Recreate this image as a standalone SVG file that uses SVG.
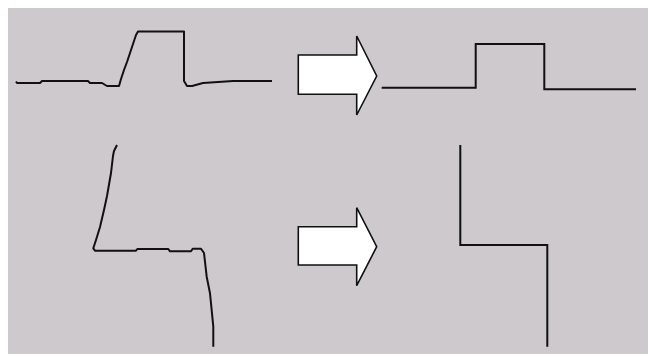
<svg xmlns="http://www.w3.org/2000/svg" width="648" height="354" viewBox="0 0 648 354">
<style>
.ink{fill:none;stroke:#111;stroke-width:2;stroke-linejoin:round;stroke-linecap:butt}
.clean{fill:none;stroke:#111;stroke-width:2;stroke-linejoin:miter}
.arrow{fill:#fff;stroke:#111;stroke-width:1.6;stroke-linejoin:miter}
</style>
<rect x="0" y="0" width="648" height="354" fill="#ffffff"/>
<rect x="8" y="8" width="640" height="346" fill="#cdc9cc"/>
<g id="sketch-step">
<polyline class="ink" points="16,81.5 17,83 40,83 42,81 88,81 90,83 102,83 107,86 119,86 121,79 124,70 127,62 130,53 133,44 136,35 138,31.5 142,31.5 184,31.5 184,81 187,86 192,86 203,83 233,81 272,81"/>
</g>
<g id="arrow-top">
<polygon class="arrow" points="298.3,55 356.7,55 356.7,36 376.7,76 356.7,115 356.7,94.3 298.3,94.3"/>
</g>
<g id="clean-step">
<polyline class="clean" points="381.7,87.7 475.7,87.7 475.7,44 544.3,44 544.3,89.3 636,89.3"/>
</g>
<g id="sketch-z">
<polyline class="ink" points="117,145 114,151 113,156 111,173 107,196 104,210 100,227 96,240 93.3,248.3 95,250.7 136,250.7 137.3,249 168.3,249 170,251.3 191,251.3 192.7,248.7 201,248.7 204,253 206.7,276.7 210,293.3 211,303.3 213.3,326.7 213.3,346.7"/>
</g>
<g id="arrow-bottom">
<polygon class="arrow" points="298.3,226.7 356.7,226.7 356.7,207.7 376.7,246.7 356.7,285.7 356.7,265 298.3,265"/>
</g>
<g id="clean-z">
<polyline class="clean" points="460.3,145 460.3,245 547.3,245 547.3,346.7"/>
</g>
</svg>
